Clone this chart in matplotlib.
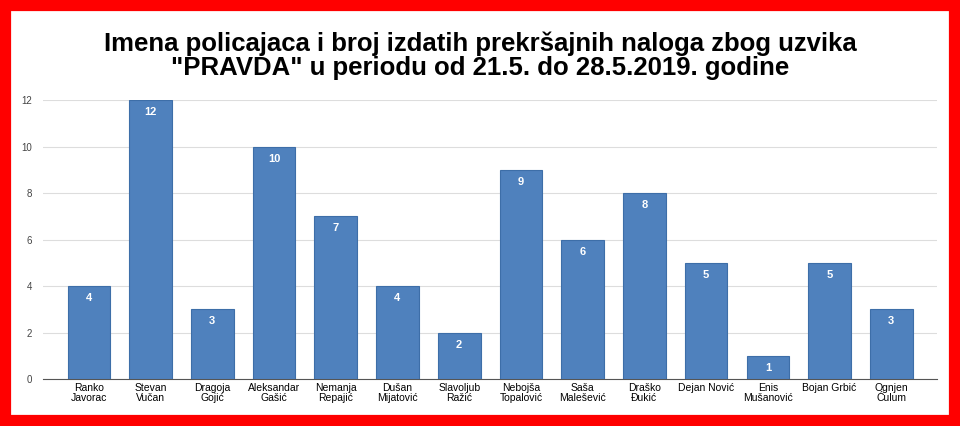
import matplotlib
matplotlib.use("Agg")
import matplotlib.pyplot as plt
from matplotlib.patches import Rectangle

names = ["Ranko\nJavorac", "Stevan\nVučan", "Dragoja\nGojić", "Aleksandar\nGašić", "Nemanja\nRepajić",
         "Dušan\nMijatović", "Slavoljub\nRažić", "Nebojša\nTopalović", "Saša\nMalešević", "Draško\nĐukić",
         "Dejan Nović", "Enis\nMušanović", "Bojan Grbić", "Ognjen\nĆulum"]
values = [4, 12, 3, 10, 7, 4, 2, 9, 6, 8, 5, 1, 5, 3]
yticks = [0, 2, 4, 6, 8, 10, 12]
title = 'Imena policajaca i broj izdatih prekršajnih naloga zbog uzvika\n"PRAVDA" u periodu od 21.5. do 28.5.2019. godine'

plt.rcParams['font.family'] = ['Liberation Sans', 'DejaVu Sans']
fig = plt.figure(figsize=(9.6, 4.26), dpi=100)
fig.patches.append(Rectangle((0, 0), 1, 1, transform=fig.transFigure, fill=False,
                             edgecolor='#ff0000', linewidth=16))
ax = fig.add_axes([0.045, 0.110, 0.931, 0.655])
x = range(len(values))
bars = ax.bar(x, values, width=0.69, color='#4f81bd', edgecolor='#3d6ea8', linewidth=0.8, zorder=3)
for xi, v in zip(x, values):
    ax.text(xi, v - 0.3, str(v), ha='center', va='top', color='white', fontsize=8, fontweight='bold', zorder=4)
ax.set_xlim(-0.74, len(values) - 0.26)
ax.set_ylim(0, 12)
ax.set_yticks(yticks)
ax.tick_params(axis='y', labelsize=7, length=0, colors='#444444', pad=8)
ax.set_xticks(list(x))
ax.set_xticklabels(names, fontsize=7.5, linespacing=0.95)
ax.tick_params(axis='x', length=0, pad=3)
ax.grid(axis='y', color='#dddddd', linewidth=0.8, zorder=0)
for s in ['top', 'right', 'left']:
    ax.spines[s].set_visible(False)
ax.spines['bottom'].set_color('#555555')
fig.text(0.5, 0.87, title, ha='center', va='center', fontsize=18.5, fontweight='bold', linespacing=1.0)
fig.savefig('out.png', dpi=100)
